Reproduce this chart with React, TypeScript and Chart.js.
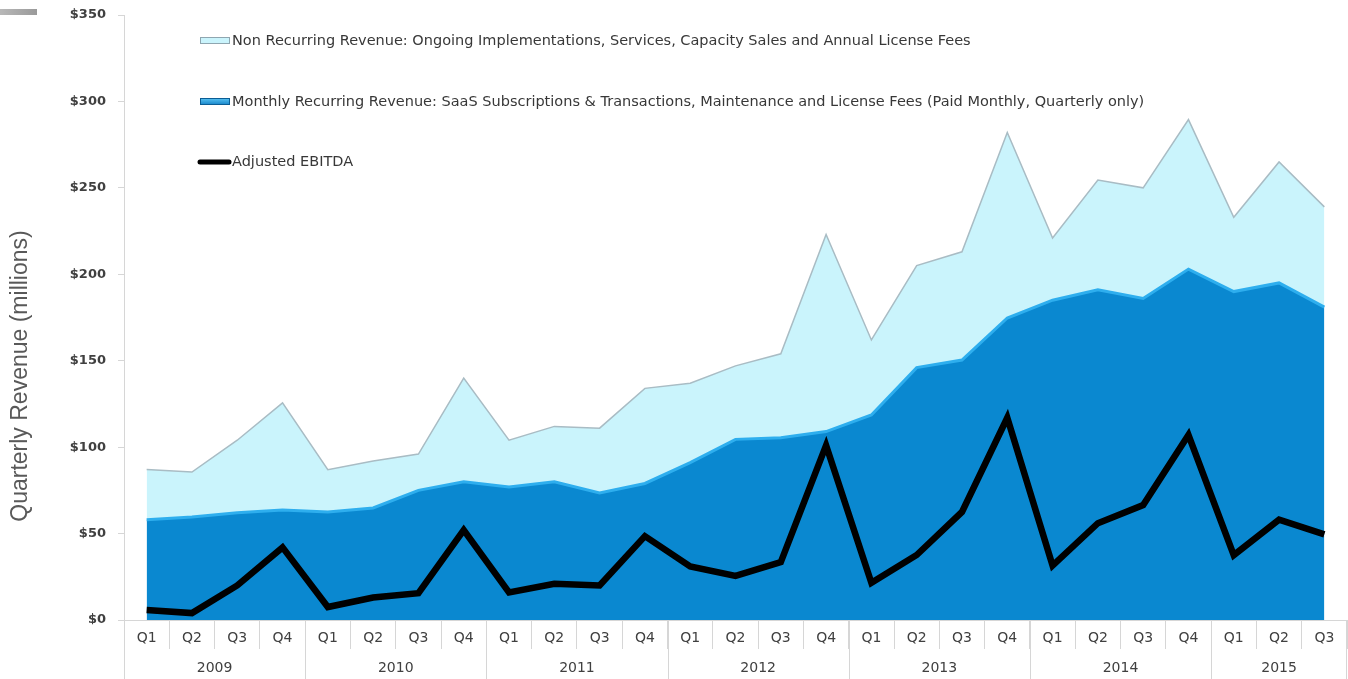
import React, { useEffect, useRef } from 'react';
import { Chart, registerables } from 'chart.js';

Chart.register(...registerables);

// ---- data ----
const quarterLabels = [
  'Q1', 'Q2', 'Q3', 'Q4',
  'Q1', 'Q2', 'Q3', 'Q4',
  'Q1', 'Q2', 'Q3', 'Q4',
  'Q1', 'Q2', 'Q3', 'Q4',
  'Q1', 'Q2', 'Q3', 'Q4',
  'Q1', 'Q2', 'Q3', 'Q4',
  'Q1', 'Q2', 'Q3',
];
const yearLabels = ['2009', '2010', '2011', '2012', '2013', '2014', '2015'];
const quartersPerYear = [4, 4, 4, 4, 4, 4, 3];

const recurringRevenue = [
  58, 59.6, 62, 63.6,
  62.5, 64.8, 75, 80,
  77, 80, 73.5, 79,
  91, 104.5, 105.5, 109,
  118.6, 146, 150.4, 174.7,
  185, 191, 186, 203,
  190, 195, 181,
];
const nonRecurringRevenue = [
  29, 26, 42, 62,
  24.5, 27.2, 21, 60,
  27, 32, 37.5, 55,
  46, 42.5, 48.5, 114,
  43.4, 59, 62.6, 107.3,
  36, 63.5, 64, 86.5,
  43, 70, 58,
];
const adjustedEbitda = [
  5.8, 4, 20, 42,
  7.5, 13, 15.5, 52,
  16, 21, 20, 48.5,
  31, 25.5, 33.5, 101,
  21.5, 37.6, 62.5, 117,
  31.5, 56, 66.5, 107,
  37.5, 58, 49.5,
];

const seriesNames = [
  'Monthly Recurring Revenue: SaaS Subscriptions & Transactions, Maintenance and License Fees (Paid Monthly, Quarterly only)',
  'Non Recurring Revenue: Ongoing Implementations, Services, Capacity Sales and Annual License Fees',
  'Adjusted EBITDA',
];
const yAxisTitle = 'Quarterly Revenue (millions)';
const yMin = 0;
const yMax = 350;
const yStep = 50;

// ---- styles ----
const DARK_BLUE = '#0a88d0';
const DARK_BLUE_EDGE = '#2eaeee';
const LIGHT_CYAN = '#caf4fc';
const LIGHT_EDGE = '#a9bcc4';
const GRID = '#d6d6d6';
const TEXT = '#404040';
const FONT = '"DejaVu Sans", Verdana, sans-serif';

const decorPlugin = {
  id: 'decor',
  afterDraw(chart: any) {
    const ctx = chart.ctx as CanvasRenderingContext2D;
    const x = chart.scales.x;
    const area = chart.chartArea;
    ctx.save();

    // top-left grey bar
    const g = ctx.createLinearGradient(0, 0, 37, 0);
    g.addColorStop(0, '#b8b8b8');
    g.addColorStop(1, '#9a9a9a');
    ctx.fillStyle = g;
    ctx.fillRect(0, 9, 37, 6);

    // year group labels and separators
    const half = (x.getPixelForValue(1) - x.getPixelForValue(0)) / 2;
    let idx = 0;
    ctx.strokeStyle = GRID;
    ctx.lineWidth = 1;
    ctx.fillStyle = TEXT;
    ctx.font = `14px ${FONT}`;
    ctx.textAlign = 'center';
    ctx.textBaseline = 'middle';
    yearLabels.forEach((yr, i) => {
      const n = quartersPerYear[i];
      const x0 = x.getPixelForValue(idx) - half;
      const x1 = x.getPixelForValue(idx + n - 1) + half;
      ctx.beginPath();
      ctx.moveTo(Math.round(x0) + 0.5, area.bottom);
      ctx.lineTo(Math.round(x0) + 0.5, chart.height);
      if (i === yearLabels.length - 1) {
        ctx.moveTo(Math.round(x1) - 0.5, area.bottom);
        ctx.lineTo(Math.round(x1) - 0.5, chart.height);
      }
      ctx.stroke();
      ctx.fillText(yr, (x0 + x1) / 2, 668);
      idx += n;
    });

    // y axis title
    ctx.save();
    ctx.translate(21, 376);
    ctx.rotate(-Math.PI / 2);
    ctx.font = `23px "Liberation Sans", Arial, sans-serif`;
    ctx.fillStyle = '#595959';
    ctx.textAlign = 'center';
    ctx.textBaseline = 'middle';
    ctx.fillText(yAxisTitle, 0, 0);
    ctx.restore();

    // legend
    const ds = chart.data.datasets;
    const items = [
      { d: ds[1], y: 41, kind: 'light' },
      { d: ds[0], y: 102, kind: 'dark' },
      { d: ds[2], y: 162, kind: 'line' },
    ];
    ctx.font = `14.5px ${FONT}`;
    ctx.textAlign = 'left';
    ctx.textBaseline = 'middle';
    items.forEach((it) => {
      if (it.kind === 'light') {
        ctx.fillStyle = LIGHT_CYAN;
        ctx.fillRect(200, it.y - 3, 30, 6);
        ctx.strokeStyle = '#8fa6b0';
        ctx.lineWidth = 1;
        ctx.strokeRect(200.5, it.y - 3.5, 29, 6);
      } else if (it.kind === 'dark') {
        const gg = ctx.createLinearGradient(0, it.y - 4, 0, it.y + 4);
        gg.addColorStop(0, '#5cc6f5');
        gg.addColorStop(1, '#0a78c0');
        ctx.fillStyle = gg;
        ctx.fillRect(200, it.y - 3, 30, 6);
        ctx.strokeStyle = '#0b5d94';
        ctx.lineWidth = 1;
        ctx.strokeRect(200.5, it.y - 3.5, 29, 6);
      } else {
        ctx.strokeStyle = '#000';
        ctx.lineWidth = 5;
        ctx.lineCap = 'round';
        ctx.beginPath();
        ctx.moveTo(200, it.y);
        ctx.lineTo(229, it.y);
        ctx.stroke();
        ctx.lineCap = 'butt';
      }
      ctx.fillStyle = '#383838';
      ctx.fillText(it.d.label, 232, it.y);
    });

    ctx.restore();
  },
};

export default function App() {
  const ref = useRef<HTMLCanvasElement | null>(null);

  useEffect(() => {
    if (!ref.current) return;
    const chart = new Chart(ref.current, {
      type: 'line',
      data: {
        labels: quarterLabels,
        datasets: [
          {
            label: seriesNames[0],
            data: recurringRevenue,
            stack: 'revenue',
            fill: 'origin',
            backgroundColor: DARK_BLUE,
            borderColor: DARK_BLUE_EDGE,
            borderWidth: 3,
            pointRadius: 0,
            tension: 0,
            order: 1,
          },
          {
            label: seriesNames[1],
            data: nonRecurringRevenue,
            stack: 'revenue',
            fill: '-1',
            backgroundColor: LIGHT_CYAN,
            borderColor: LIGHT_EDGE,
            borderWidth: 1.5,
            pointRadius: 0,
            tension: 0,
            order: 2,
          },
          {
            label: seriesNames[2],
            data: adjustedEbitda,
            stack: 'ebitda',
            fill: false,
            borderColor: '#000000',
            backgroundColor: '#000000',
            borderWidth: 6.5,
            borderJoinStyle: 'miter',
            pointRadius: 0,
            tension: 0,
            order: 0,
          },
        ],
      },
      options: {
        responsive: false,
        animation: false,
        devicePixelRatio: 1,
        layout: { padding: { top: 15, right: 1, left: 0, bottom: 0 } },
        plugins: {
          legend: { display: false },
          tooltip: { enabled: false },
          title: { display: false },
        },
        scales: {
          x: {
            type: 'category',
            offset: true,
            afterFit(scale: any) {
              scale.height = 59;
            },
            grid: {
              offset: true,
              drawOnChartArea: false,
              drawTicks: true,
              tickLength: 29,
              color: GRID,
            },
            border: { display: true, color: GRID },
            ticks: {
              padding: -19,
              maxRotation: 0,
              autoSkip: false,
              color: TEXT,
              font: { family: FONT, size: 14 },
            },
          },
          y: {
            stacked: true,
            min: yMin,
            max: yMax,
            afterFit(scale: any) {
              scale.width = 124;
              scale.paddingTop = 0;
              scale.paddingBottom = 0;
            },
            grid: {
              drawOnChartArea: false,
              drawTicks: true,
              tickLength: 6,
              color: GRID,
            },
            border: { display: true, color: GRID },
            ticks: {
              stepSize: yStep,
              padding: 12,
              color: TEXT,
              font: { family: FONT, size: 13, weight: 'bold' },
              callback: (v: any) => '$' + v,
            },
          },
        },
      },
      plugins: [decorPlugin],
    });
    return () => chart.destroy();
  }, []);

  return (
    <div style={{ position: 'absolute', left: 0, top: 0, width: 1348, height: 679, background: '#fff' }}>
      <canvas ref={ref} width={1348} height={679} style={{ display: 'block' }} />
    </div>
  );
}
